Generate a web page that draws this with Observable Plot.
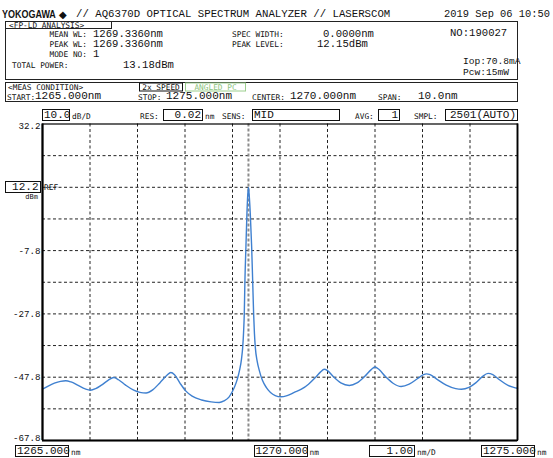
<!DOCTYPE html>
<html><head><meta charset="utf-8">
<script src="https://cdn.jsdelivr.net/npm/d3@7"></script>
<script src="https://cdn.jsdelivr.net/npm/@observablehq/plot@0.6"></script>
<style>
body{margin:0;background:#fff;}
#wrap{position:relative;width:553px;height:458px;overflow:hidden;font-family:"Liberation Mono","DejaVu Sans Mono",monospace;color:#111;background:#fff;}
.t{position:absolute;white-space:pre;line-height:1;}
.s{font-family:"DejaVu Sans Mono",monospace;font-size:7.8px;line-height:7px;}
.v{font-size:10.6px;line-height:8px;}
.m{font-size:10.7px;line-height:9px;}
.bx{border:1px solid #111;padding:0 1px;line-height:10px;height:10px;box-sizing:content-box;font-size:11px;}
.s.bx{line-height:7px;height:7px;font-size:7.8px;}
.r{position:absolute;border:1px solid #222;box-sizing:border-box;}
#logo{font-family:"Liberation Sans",Arial,sans-serif;font-weight:bold;font-size:11.5px;line-height:9px;}
#chart{position:absolute;left:0;top:110px;}
</style></head><body><div id="wrap"></div>
<script>
// ---- spectrum trace (wavelength nm, level dBm) ----
const wavelength = [1265.00,1265.12,1265.25,1265.38,1265.49,1265.60,1265.75,1265.90,1266.01,1266.12,1266.25,1266.38,1266.50,1266.60,1266.75,1266.92,1267.05,1267.18,1267.32,1267.47,1267.62,1267.70,1267.78,1267.90,1268.02,1268.15,1268.35,1268.55,1268.72,1268.82,1268.93,1269.04,1269.10,1269.15,1269.19,1269.215,1269.235,1269.248,1269.262,1269.283,1269.304,1269.322,1269.336,1269.350,1269.374,1269.403,1269.424,1269.445,1269.462,1269.48,1269.52,1269.565,1269.63,1269.71,1269.80,1269.90,1270.02,1270.15,1270.30,1270.45,1270.60,1270.75,1270.85,1270.93,1271.00,1271.12,1271.28,1271.46,1271.62,1271.78,1271.92,1272.00,1272.08,1272.22,1272.38,1272.55,1272.72,1272.90,1273.02,1273.08,1273.16,1273.30,1273.50,1273.70,1273.82,1273.98,1274.12,1274.26,1274.38,1274.48,1274.62,1274.80,1274.92,1275.00];
const levelDbm = [-51.6,-50.6,-49.7,-49.1,-48.9,-49.3,-50.4,-51.5,-51.9,-51.4,-50.2,-48.8,-47.9,-48.6,-50.3,-51.9,-52.6,-52.8,-51.8,-49.6,-47.2,-46.3,-47.0,-49.8,-52.2,-53.8,-55.0,-55.6,-55.8,-55.3,-54.0,-51.0,-48.5,-45.5,-42.0,-38.3,-33.0,-27.8,-17.0,-6.5,4.0,10.0,12.15,10.0,4.0,-6.5,-17.0,-27.8,-34.0,-38.3,-42.8,-45.7,-48.8,-51.0,-52.6,-53.6,-54.0,-53.6,-52.6,-51.6,-50.0,-47.8,-46.2,-45.3,-45.7,-47.6,-49.6,-50.4,-49.6,-47.6,-45.4,-44.6,-45.3,-47.6,-49.7,-50.75,-50.0,-48.2,-47.0,-46.75,-47.0,-48.4,-50.3,-51.4,-51.6,-51.0,-49.6,-47.6,-46.6,-47.0,-48.6,-50.4,-51.0,-51.3];

// ---- axes / grid ----
const yTickLabels = [32.2, -7.8, -27.8, -47.8, -67.8];
const gridWavelengths = [1266,1267,1268,1269,1270,1271,1272,1273,1274];
const gridLevels = [22.2,12.2,2.2,-7.8,-17.8,-27.8,-37.8,-47.8,-57.8];
const refLevel = 12.2;
const peakWavelength = 1269.336;
const spanStart = 1265, spanCenter = 1270, spanStop = 1275;
const xLabels = ["1265.000", "1270.000", "1275.000"];

// ---- header texts ----
const titleText = "// AQ6370D OPTICAL SPECTRUM ANALYZER // LASERSCOM";
const dateText = "2019 Sep 06 10:50";
const analysisLabels = ["MEAN WL:", "PEAK WL:", "MODE NO:", "TOTAL POWER:"];
const analysisValues = ["1269.3360nm", "1269.3360nm", "1", "13.18dBm"];
const analysisLabels2 = ["SPEC WIDTH:", "PEAK LEVEL:"];
const analysisValues2 = ["0.0000nm", "12.15dBm"];
const deviceInfo = ["NO:190027", "Iop:70.8mA", "Pcw:15mW"];
const condLabels = ["START:", "STOP:", "CENTER:", "SPAN:"];
const condValues = ["1265.000nm", "1275.000nm", "1270.000nm", "10.0nm"];
const setupLabels = ["RES:", "SENS:", "AVG:", "SMPL:"];
const setupValues = ["0.02", "MID", "1", "2501(AUTO)"];
const scaleDiv = "10.0", xDiv = "1.00";

const wrap = document.getElementById("wrap");
function put(text, x, y, cls, anchor = "start", extra = {}) {
  const d = document.createElement("div");
  d.className = "t " + cls;
  d.textContent = text;
  d.style.left = x + "px"; d.style.top = y + "px";
  const tx = anchor === "end" ? "-100%" : anchor === "middle" ? "-50%" : "0";
  d.style.transform = `translate(${tx},-50%)`;
  Object.assign(d.style, extra);
  wrap.appendChild(d);
  return d;
}
function rect(x1, y1, x2, y2, extra = {}) {
  const d = document.createElement("div");
  d.className = "r";
  d.style.left = x1 + "px"; d.style.top = y1 + "px";
  d.style.width = (x2 - x1) + "px"; d.style.height = (y2 - y1) + "px";
  Object.assign(d.style, extra);
  wrap.appendChild(d);
  return d;
}
function boxed(text, x1, x2, y, align = "right", cls = "") {
  const d = put(text, x1, y, cls + " bx");
  d.style.width = (x2 - x1 - 4) + "px";
  d.style.textAlign = align;
  return d;
}

// ---- chart ----
const data = wavelength.map((w, i) => ({w, p: levelDbm[i]}));
const tf = d => d.toFixed(1);
const yAxisOpts = {tickSize: 0, tickPadding: 2, tickFormat: tf, label: null, fontSize: 9.2, fontFamily: "Liberation Mono"};
const chart = Plot.plot({
  width: 553, height: 348,
  marginTop: 13.5, marginBottom: 18, marginLeft: 42, marginRight: 36,
  x: {domain: [spanStart, spanStop], axis: null},
  y: {domain: [-67.8, 32.2]},
  style: {fontFamily: "Liberation Mono", fontSize: "9.2px", color: "#111", background: "transparent", overflow: "visible"},
  marks: [
    Plot.ruleX(gridWavelengths, {stroke: "#222", strokeDasharray: "3,2.5", strokeWidth: 1}),
    Plot.ruleY(gridLevels, {stroke: "#222", strokeDasharray: "3,2.5", strokeWidth: 1}),
    Plot.ruleX([peakWavelength], {stroke: "#8c8c8c", strokeWidth: 2, strokeDasharray: "3,2"}),
    Plot.line(data, {x: "w", y: "p", stroke: "#3f80d0", strokeWidth: 1.4, curve: "monotone-x"}),
    Plot.frame({stroke: "#000", strokeWidth: 1.2}),
    Plot.ruleX([spanStart], {stroke: "#000", strokeWidth: 2.2}),
    Plot.ruleX([spanStop], {stroke: "#000", strokeWidth: 1.8}),
    Plot.ruleY([-67.8], {stroke: "#000", strokeWidth: 2.2}),
    Plot.axisY(yTickLabels.slice(1, 4), yAxisOpts),
    Plot.axisY([yTickLabels[0]], {...yAxisOpts, dy: 2}),
    Plot.axisY([yTickLabels[4]], {...yAxisOpts, dy: -2.5})
  ]
});
chart.id = "chart";
wrap.appendChild(chart);
const sx = chart.scale("x"), sy = chart.scale("y");
const top0 = 110;

// ---- title line ----
const logo = put("YOKOGAWA", 2, 14, "", "start");
logo.id = "logo";
logo.style.transformOrigin = "0 50%";
logo.style.transform = "translate(0,-50%) scaleX(0.78)";
put("\u25C6", 59, 13.5, "", "start", {fontSize: "10px", fontFamily: "DejaVu Sans", lineHeight: "9px"});
put(titleText, 76, 14, "m");
put(dateText, 550, 14, "m", "end", {fontSize: "10.4px"});

// ---- FP-LD analysis box ----
rect(5, 20.5, 518, 79.5);
rect(5, 20.5, 112, 28.5, {borderTop: "none", borderLeft: "none"});
put("<FP-LD ANALYSIS>", 9, 24.5, "s");
const rowsY = [34, 44, 54, 64.5];
analysisLabels.forEach((l, i) => {
  if (i < 3) put(l, 87, rowsY[i], "s", "end");
  else put(l, 12, rowsY[i], "s");
});
analysisValues.forEach((v, i) => put(v, i < 3 ? 93 : 123, rowsY[i], "v"));
analysisLabels2.forEach((l, i) => put(l, 232, rowsY[i], "s"));
put(analysisValues2[0], 323, rowsY[0], "v");
put(analysisValues2[1], 317, rowsY[1], "v");
put(deviceInfo[0], 450, 33, "v", "start", {fontSize: "10.6px"});
put(deviceInfo[1], 463, 62, "v", "start", {fontSize: "9.6px"});
put(deviceInfo[2], 463, 72.5, "v", "start", {fontSize: "9.6px"});

// ---- measurement condition box ----
rect(5, 81.5, 518, 102);
put("<MEAS CONDITION>", 8, 86.5, "s");
boxed("2x SPEED", 139, 183, 86.5, "center", "s");
const ang = boxed("ANGLED PC", 185, 246, 86.5, "center", "s");
ang.style.borderColor = "#9ccf8e"; ang.style.color = "#8cc47c";
const condX = [[7, 35], [138, 166], [252, 290], [378, 418]];
condLabels.forEach((l, i) => put(l, condX[i][0], 96.5, "s"));
condValues.forEach((v, i) => put(v, condX[i][1], 96, "v", "start", {fontSize: "11px"}));

// ---- setup row ----
const rowY = 115;
boxed(scaleDiv, 42, 70, rowY, "right");
put("dB/D", 72, rowY + 1, "s");
put(setupLabels[0], 140, rowY + 1, "s");
boxed(setupValues[0], 163, 203, rowY, "right");
put("nm", 205, rowY + 1, "s");
put(setupLabels[1], 222, rowY + 1, "s");
boxed(setupValues[1], 252, 340, rowY, "left");
put(setupLabels[2], 355, rowY + 1, "s");
boxed(setupValues[2], 378, 400, rowY, "right");
put(setupLabels[3], 414, rowY + 1, "s");
boxed(setupValues[3], 445, 518, rowY, "right");

// ---- reference level ----
const refY = top0 + sy.apply(refLevel);
boxed(refLevel.toFixed(1), 5, 40.5, refY, "right");
put("REF", 44, refY, "s");
put("dBm", 38, refY + 10, "s", "end", {fontSize: "7px"});

// ---- x labels ----
const xl = sx.apply(spanStart), xc = sx.apply(spanCenter), xr = sx.apply(spanStop);
const by = 451;
boxed(xLabels[0], xl - 27, xl + 27, by, "right");
put("nm", xl + 29, by + 1, "s");
boxed(xLabels[1], xc - 26, xc + 28, by, "right");
put("nm", xc + 30, by + 1, "s");
boxed(xDiv, 369, 415, by, "right");
put("nm/D", 417, by + 1, "s");
boxed(xLabels[2], Math.min(xr - 27, 481), Math.min(xr + 27, 535), by, "right");
put("nm", Math.min(xr + 29, 537), by + 1, "s");
</script></body></html>
